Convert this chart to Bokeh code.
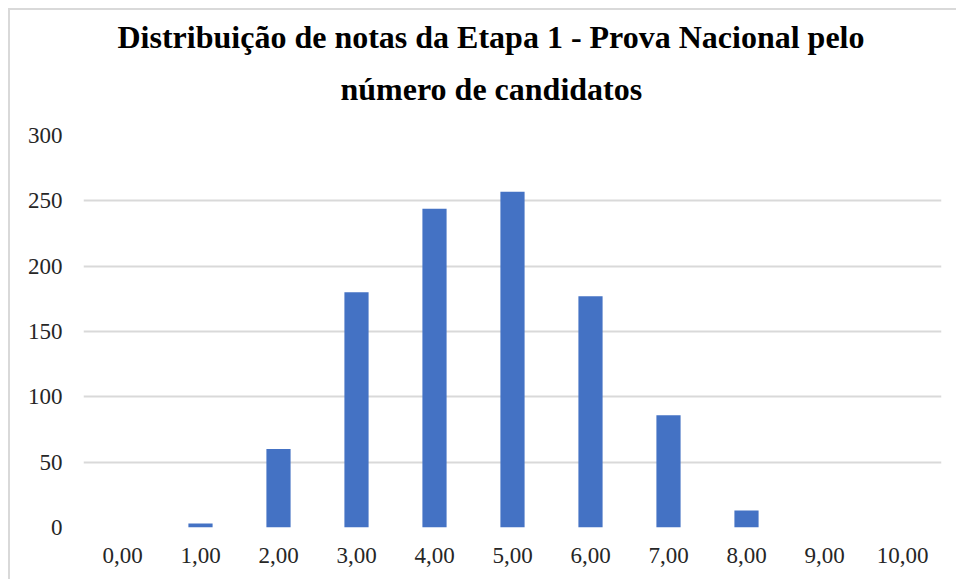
from bokeh.plotting import figure
from bokeh.models import ColumnDataSource, Title, FixedTicker, Range1d
from bokeh.embed import file_html
from bokeh.resources import INLINE

categories = ["0,00", "1,00", "2,00", "3,00", "4,00", "5,00", "6,00", "7,00", "8,00", "9,00", "10,00"]
counts = [0, 3, 60, 180, 244, 257, 177, 86, 13, 0, 0]
y_ticks = [0, 50, 100, 150, 200, 250, 300]
title_line1 = "Distribuição de notas da Etapa 1 - Prova Nacional pelo"
title_line2 = "número de candidatos"

src = ColumnDataSource(dict(cat=categories, val=counts))

p = figure(x_range=categories, y_range=Range1d(0, 300), width=948, height=571,
           output_backend="svg", toolbar_location=None, title=None,
           min_border_left=73, min_border_right=17, min_border_bottom=54, min_border_top=125)

p.vbar(x="cat", top="val", width=0.31, source=src, fill_color="#4472C4", line_color=None)

serif = "Liberation Serif"
t2 = Title(text=title_line2, align="left", text_font=serif, text_font_size="32px",
           text_font_style="bold", text_color="#000000", offset=257, standoff=57)
t1 = Title(text=title_line1, align="left", text_font=serif, text_font_size="32px",
           text_font_style="bold", text_color="#000000", offset=34, standoff=-29)
p.add_layout(t2, "above")
p.add_layout(t1, "above")

p.xgrid.grid_line_color = None
p.ygrid.grid_line_color = "#d9d9d9"
p.ygrid.grid_line_width = 2
p.yaxis.ticker = FixedTicker(ticks=y_ticks)

for ax in (p.xaxis, p.yaxis):
    ax.axis_line_color = None
    ax.major_tick_line_color = None
    ax.minor_tick_line_color = None
    ax.major_tick_out = 0
    ax.major_tick_in = 0
    ax.major_label_text_font = serif
    ax.major_label_text_font_size = "23px"
    ax.major_label_text_color = "#262626"
p.yaxis.major_label_standoff = 21
p.xaxis.major_label_standoff = 20

p.outline_line_color = None
p.background_fill_color = "white"
p.border_fill_color = "white"
p.styles = {"margin-top": "8px", "margin-left": "8px",
            "border-top": "2px solid #d9d9d9", "border-left": "2px solid #d9d9d9"}

open("out.html", "w").write(file_html(p, INLINE))
